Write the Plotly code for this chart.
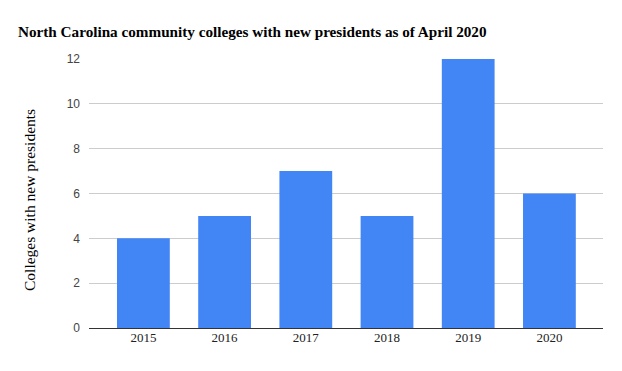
import plotly.graph_objects as go

years = ["2015", "2016", "2017", "2018", "2019", "2020"]
colleges = [4, 5, 7, 5, 12, 6]
y_ticks = [0, 2, 4, 6, 8, 10, 12]

fig = go.Figure(go.Bar(x=years, y=colleges, marker_color="#4285F4", width=0.65,
                       marker_line_width=0))
fig.update_layout(
    width=622, height=371,
    margin=dict(l=81, r=27, t=51, b=51),
    paper_bgcolor="white", plot_bgcolor="white",
    title=dict(text="<b>North Carolina community colleges with new presidents as of April 2020</b>",
               x=10/622, xanchor="left", y=1-24/371, yanchor="middle",
               font=dict(family="Liberation Serif", size=15.2, color="#000")),
    xaxis=dict(type="category", range=[-0.67, 5.66], showgrid=False, automargin=False,
               tickfont=dict(family="Liberation Serif", size=13, color="#222"),
               ticks="", showline=False),
    yaxis=dict(range=[0, 12], tickvals=y_ticks, showgrid=True, gridcolor="#cccccc",
               automargin=False,
               zeroline=True, zerolinecolor="#333333", zerolinewidth=1,
               tickfont=dict(family="Liberation Sans", size=12, color="#444"),
               ticks="", ticklabelstandoff=8),
    annotations=[dict(text="Colleges with new presidents", textangle=-90,
                      xref="paper", yref="paper", x=(21-81)/514, y=(320-192)/269,
                      xanchor="center", yanchor="middle", showarrow=False,
                      font=dict(family="Liberation Serif", size=15.5, color="#000"))],
    showlegend=False,
)
fig.write_html("out.html")
